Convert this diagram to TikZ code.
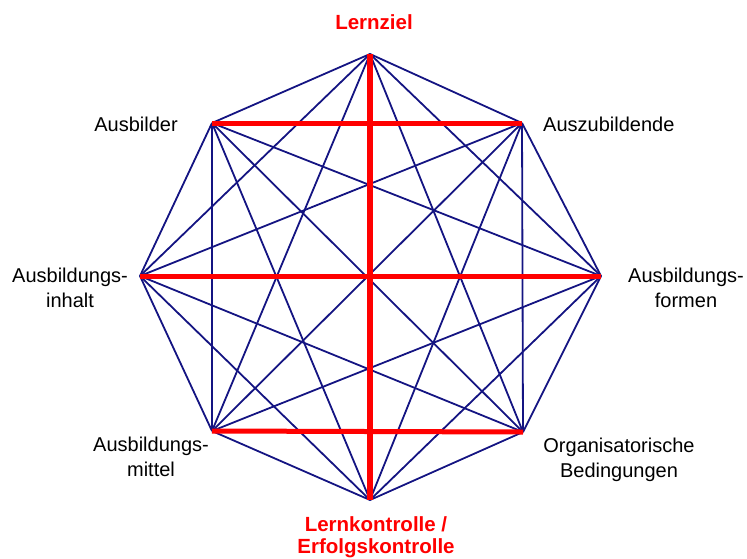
\documentclass[tikz,border=0pt]{standalone}
\usepackage{fontspec}
\setmainfont{Liberation Sans}
\begin{document}
\begin{tikzpicture}[x=1pt,y=-1pt,
  edge/.style={draw={rgb,255:red,20;green,20;blue,130},line width=1.8pt},
  redge/.style={draw={rgb,255:red,255;green,0;blue,0},line width=5pt},
  lab/.style={font=\fontsize{20}{24.5}\selectfont,align=center,inner sep=0pt,text=black},
  rlab/.style={lab,font=\fontsize{20.5}{22}\selectfont\bfseries,text={rgb,255:red,255;green,0;blue,0}}]
\useasboundingbox (0,0) rectangle (747,558);
\coordinate (top) at (370,54);
\coordinate (tr) at (522,123);
\coordinate (r) at (601,276);
\coordinate (br) at (523,432);
\coordinate (bot) at (370,500);
\coordinate (bl) at (212,431);
\coordinate (l) at (140,276);
\coordinate (tl) at (212,123);
\foreach \a/\b in {top/tr,top/r,top/br,top/bl,top/l,top/tl,
  tr/r,tr/br,tr/bot,tr/bl,tr/l,
  r/br,r/bot,r/bl,r/tl,
  br/bot,br/l,br/tl,
  bot/bl,bot/l,bot/tl,
  bl/l,bl/tl,
  l/tl}
  \draw[edge] (\a) -- (\b);
\draw[redge,line width=6pt] (top) -- (bot);
\draw[redge] (l) -- (r);
\draw[redge] (tl) -- (tr);
\draw[redge] (bl) -- (br);
\node[rlab] (n1) at (374,22) {Lernziel};
\node[lab] (n2) at (136,124) {Ausbilder};
\node[lab,anchor=west] (n3) at (543,124) {Auszubildende};
\node[lab] (n4) at (70,288) {Ausbildungs-\\inhalt};
\node[lab] (n5) at (686,288) {Ausbildungs-\\formen};
\node[lab] (n6) at (151,457) {Ausbildungs-\\mittel};
\node[lab] (n7) at (619,460) {Organisatorische\\Bedingungen};
\node[rlab] (n8) at (376,537) {Lernkontrolle /\\Erfolgskontrolle};
\end{tikzpicture}
\end{document}
